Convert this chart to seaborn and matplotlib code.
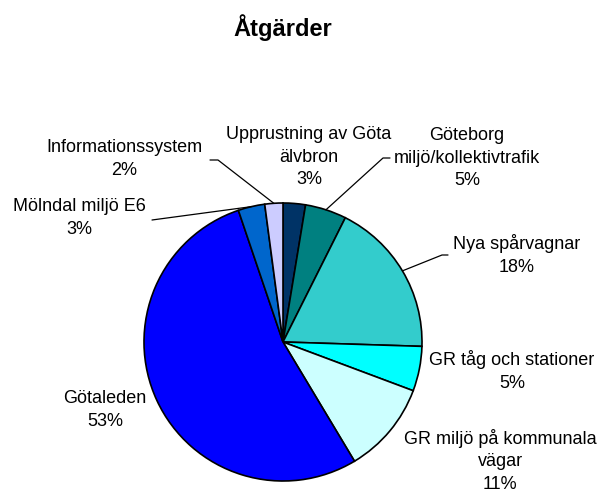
import matplotlib
matplotlib.use("Agg")
import matplotlib.pyplot as plt
import seaborn as sns
import numpy as np
from matplotlib.lines import Line2D

# ---- data ----
categories = ["Upprustning av Göta\nälvbron", "Göteborg\nmiljö/kollektivtrafik",
              "Nya spårvagnar", "GR tåg och stationer",
              "GR miljö på kommunala\nvägar", "Götaleden",
              "Mölndal miljö E6", "Informationssystem"]
values = [2.6, 4.8, 18.1, 5.2, 10.7, 53.4, 3.1, 2.1]
title = "Åtgärder"

# ---- style ----
colors = ["#003366", "#008080", "#33CCCC", "#00FFFF", "#CCFFFF",
          "#0000FF", "#0066CC", "#CCCCFF"]
sns.set_theme(style="white")
plt.rcParams['font.family'] = ['Liberation Sans', 'DejaVu Sans']

W, H = 602, 493
fig = plt.figure(figsize=(W / 100, H / 100), dpi=100)
fig.patch.set_facecolor("white")
cx, cy, r = 283, 342, 139
pad = 1.05
ax = fig.add_axes([(cx - r * pad) / W, (H - cy - r * pad) / H, 2 * r * pad / W, 2 * r * pad / H])
wedges, _ = ax.pie(values, colors=sns.color_palette(colors), startangle=90,
                   counterclock=False, radius=1,
                   wedgeprops=dict(edgecolor="black", linewidth=1.2))
ax.set_xlim(-pad, pad)
ax.set_ylim(-pad, pad)
ax.set_aspect("equal")
ax.axis("off")

total = sum(values)
# label centers (px from top-left) and optional leader start/elbow points
label_pos = [(309, 157), (467, 158), (517, 255), (512, 371),
             (500, 461), (105, 410), (79, 218), (124, 159)]
leaders = {1: [(390, 158), (383, 158)],
           2: [(448, 255), (442, 255)],
           6: [(152, 220)],
           7: [(210, 160), (218, 160)]}

for i, (name, v) in enumerate(zip(categories, values)):
    x, y = label_pos[i]
    fig.text(x / W, 1 - y / H, f"{name}\n{round(v / total * 100)}%",
             ha="center", va="center", fontsize=13, linespacing=1.42,
             color="black")

to_fig = fig.transFigure.inverted()
for i, pts in leaders.items():
    w = wedges[i]
    ang = np.deg2rad((w.theta1 + w.theta2) / 2)
    disp = ax.transData.transform((np.cos(ang), np.sin(ang)))
    fx, fy = to_fig.transform(disp)
    xs = [p[0] / W for p in pts] + [fx]
    ys = [1 - p[1] / H for p in pts] + [fy]
    fig.add_artist(Line2D(xs, ys, transform=fig.transFigure, color="black", linewidth=0.9))

fig.text(283 / W, 1 - 28 / H, title, ha="center", va="center",
         fontsize=17, fontweight="bold", color="black")

fig.savefig("out.png", dpi=100, facecolor="white")
